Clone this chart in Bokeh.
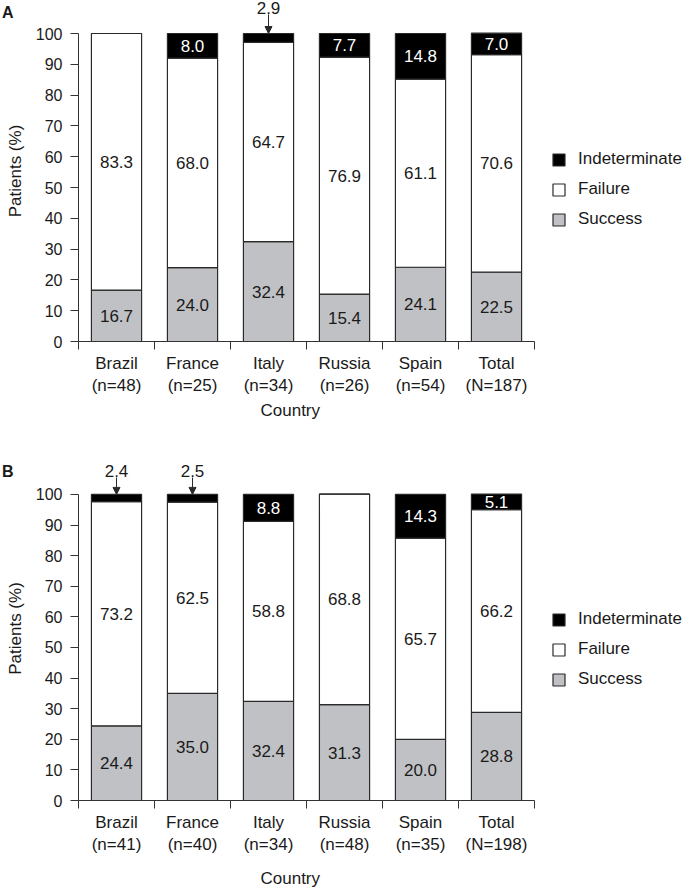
from bokeh.plotting import figure
from bokeh.models import (ColumnDataSource, FixedTicker, Legend, LegendItem, Title,
                          Arrow, NormalHead, Range1d, Div, GridBox)
from bokeh.embed import file_html
from bokeh.resources import INLINE

# ---------------- data ----------------
countries = ["Brazil", "France", "Italy", "Russia", "Spain", "Total"]
n_a = ["(n=48)", "(n=25)", "(n=34)", "(n=26)", "(n=54)", "(N=187)"]
n_b = ["(n=41)", "(n=40)", "(n=34)", "(n=48)", "(n=35)", "(N=198)"]

success_a = [16.7, 24.0, 32.4, 15.4, 24.1, 22.5]
failure_a = [83.3, 68.0, 64.7, 76.9, 61.1, 70.6]
indet_a = [0.0, 8.0, 2.9, 7.7, 14.8, 7.0]

success_b = [24.4, 35.0, 32.4, 31.3, 20.0, 28.8]
failure_b = [73.2, 62.5, 58.8, 68.8, 65.7, 66.2]
indet_b = [2.4, 2.5, 8.8, 0.0, 14.3, 5.1]

y_ticks = [0, 10, 20, 30, 40, 50, 60, 70, 80, 90, 100]
series_names = ["Success", "Failure", "Indeterminate"]

# ---------------- style ----------------
FONT = "Liberation Sans"
GREY = "#c0c1c4"
EDGE = "#2a2a2a"
AXIS = "#333333"
TXT = "#1a1a1a"
W = 684


def make_panel(n_labels, success, failure, indet, height, y_end,
               border_bottom, xlabel_standoff, xlabel_valign,
               small_text_y, arrow_y0, legend_y):
    k = len(countries)
    xs = [i + 0.5 for i in range(k)]
    s_top = list(success)
    f_top = [s + f for s, f in zip(success, failure)]
    i_top = [s + f + d for s, f, d in zip(success, failure, indet)]
    src = ColumnDataSource(dict(x=xs, s_top=s_top, f_top=f_top, i_top=i_top))

    p = figure(width=W, height=height, x_range=Range1d(0, (W - 78) / 76.0),
               y_range=Range1d(0, y_end), output_backend="svg",
               toolbar_location=None, min_border_left=78, min_border_right=0,
               min_border_top=0, min_border_bottom=border_bottom)
    p.outline_line_color = None
    p.xgrid.visible = False
    p.ygrid.visible = False
    p.background_fill_color = "white"

    bw = 0.66
    r_s = p.vbar(x="x", bottom=0, top="s_top", width=bw, source=src,
                 fill_color=GREY, line_color=EDGE, line_width=1.2)
    r_f = p.vbar(x="x", bottom="s_top", top="f_top", width=bw, source=src,
                 fill_color="white", line_color=EDGE, line_width=1.2)
    r_i = p.vbar(x="x", bottom="f_top", top="i_top", width=bw, source=src,
                 fill_color="black", line_color=EDGE, line_width=1.2)

    # segment labels
    lx, ly, lt, lc = [], [], [], []
    ax, ay0, ay1, tx, ty, tt = [], [], [], [], [], []
    for i in range(k):
        segs = [(0, success[i], TXT), (s_top[i], failure[i], TXT),
                (f_top[i], indet[i], "white")]
        for base, v, col in segs:
            if v >= 5:
                lx.append(xs[i]); ly.append(base + v / 2.0)
                lt.append("%.1f" % v); lc.append(col)
            elif v > 0:
                ax.append(xs[i]); ay0.append(arrow_y0); ay1.append(base + v)
                tx.append(xs[i]); ty.append(small_text_y); tt.append("%.1f" % v)
    lab_src = ColumnDataSource(dict(x=lx, y=ly, t=lt, c=lc))
    p.text(x="x", y="y", text="t", text_color="c", source=lab_src,
           text_align="center", text_baseline="middle",
           text_font={"value": FONT}, text_font_size="17px")

    if ax:
        small_src = ColumnDataSource(dict(x=tx, y=ty, t=tt))
        p.text(x="x", y="y", text="t", source=small_src, text_color=TXT,
               text_align="center", text_baseline="middle",
               text_font={"value": FONT}, text_font_size="17px")
        arr_src = ColumnDataSource(dict(x=ax, y0=ay0, y1=ay1))
        p.add_layout(Arrow(end=NormalHead(size=7, fill_color=EDGE, line_color=EDGE,
                                          line_width=1),
                           x_start="x", y_start="y0", x_end="x", y_end="y1",
                           line_color=EDGE, line_width=1, source=arr_src))

    # axes
    xa = p.xaxis[0]
    xa.ticker = FixedTicker(ticks=xs, minor_ticks=list(range(k + 1)))
    xa.major_label_overrides = {x: "%s\n%s" % (c, n)
                                for x, c, n in zip(xs, countries, n_labels)}
    xa.bounds = (0, k)
    xa.major_tick_out = 0
    xa.major_tick_in = 0
    xa.minor_tick_out = 8
    xa.minor_tick_in = 0
    xa.minor_tick_line_color = AXIS
    xa.axis_line_color = AXIS
    xa.major_label_standoff = 4
    xa.major_label_text_font = FONT
    xa.major_label_text_font_size = "17px"
    xa.major_label_text_color = TXT

    # x-axis title, centred under the six categories
    p.add_layout(Title(text="Country", align="left", offset=182,
                       vertical_align=xlabel_valign, standoff=xlabel_standoff,
                       text_font=FONT, text_font_size="17px",
                       text_font_style="normal", text_color=TXT), "below")

    ya = p.yaxis[0]
    ya.ticker = FixedTicker(ticks=y_ticks, minor_ticks=[])
    ya.bounds = (0, 100)
    ya.major_tick_out = 8
    ya.major_tick_in = 0
    ya.minor_tick_out = 0
    ya.minor_tick_in = 0
    ya.major_tick_line_color = AXIS
    ya.axis_line_color = AXIS
    ya.major_label_standoff = 8
    ya.major_label_text_font = FONT
    ya.major_label_text_font_size = "16px"
    ya.major_label_text_color = TXT
    ya.axis_label = "Patients (%)"
    ya.axis_label_text_font = FONT
    ya.axis_label_text_font_size = "17px"
    ya.axis_label_text_font_style = "normal"
    ya.axis_label_text_color = TXT
    ya.axis_label_standoff = 8

    legend = Legend(items=[LegendItem(label=series_names[2], renderers=[r_i]),
                           LegendItem(label=series_names[1], renderers=[r_f]),
                           LegendItem(label=series_names[0], renderers=[r_s])],
                    location=(473, legend_y), glyph_width=15, glyph_height=15,
                    label_standoff=12, spacing=10, padding=0, margin=0,
                    label_height=20, border_line_color=None,
                    background_fill_alpha=0, label_text_font=FONT,
                    label_text_font_size="17px", label_text_color=TXT)
    p.add_layout(legend)
    return p


def letter(text, pad_top):
    html = ('<div style="font-family:\'Liberation Sans\';font-size:16px;'
            'font-weight:bold;line-height:16px;color:%s;margin:0 0 0 -3px;'
            'padding:%dpx 0 0 0">%s</div>' % (TXT, pad_top, text))
    return Div(text=html, width=26, height=26)


pA = make_panel(n_a, success_a, failure_a, indet_a, height=456,
                y_end=341 / 3.08, border_bottom=115, xlabel_standoff=4,
                xlabel_valign="top",
                small_text_y=108.4, arrow_y0=106.2, legend_y=112)
pB = make_panel(n_b, success_b, failure_b, indet_b, height=440,
                y_end=345 / 3.07, border_bottom=95, xlabel_standoff=18,
                xlabel_valign="bottom",
                small_text_y=107.8, arrow_y0=105.5, legend_y=111)

grid = GridBox(children=[(pA, 0, 0), (pB, 1, 0),
                         (letter("A", 0), 0, 0), (letter("B", 3), 1, 0)])
open("out.html", "w").write(file_html(grid, INLINE))
